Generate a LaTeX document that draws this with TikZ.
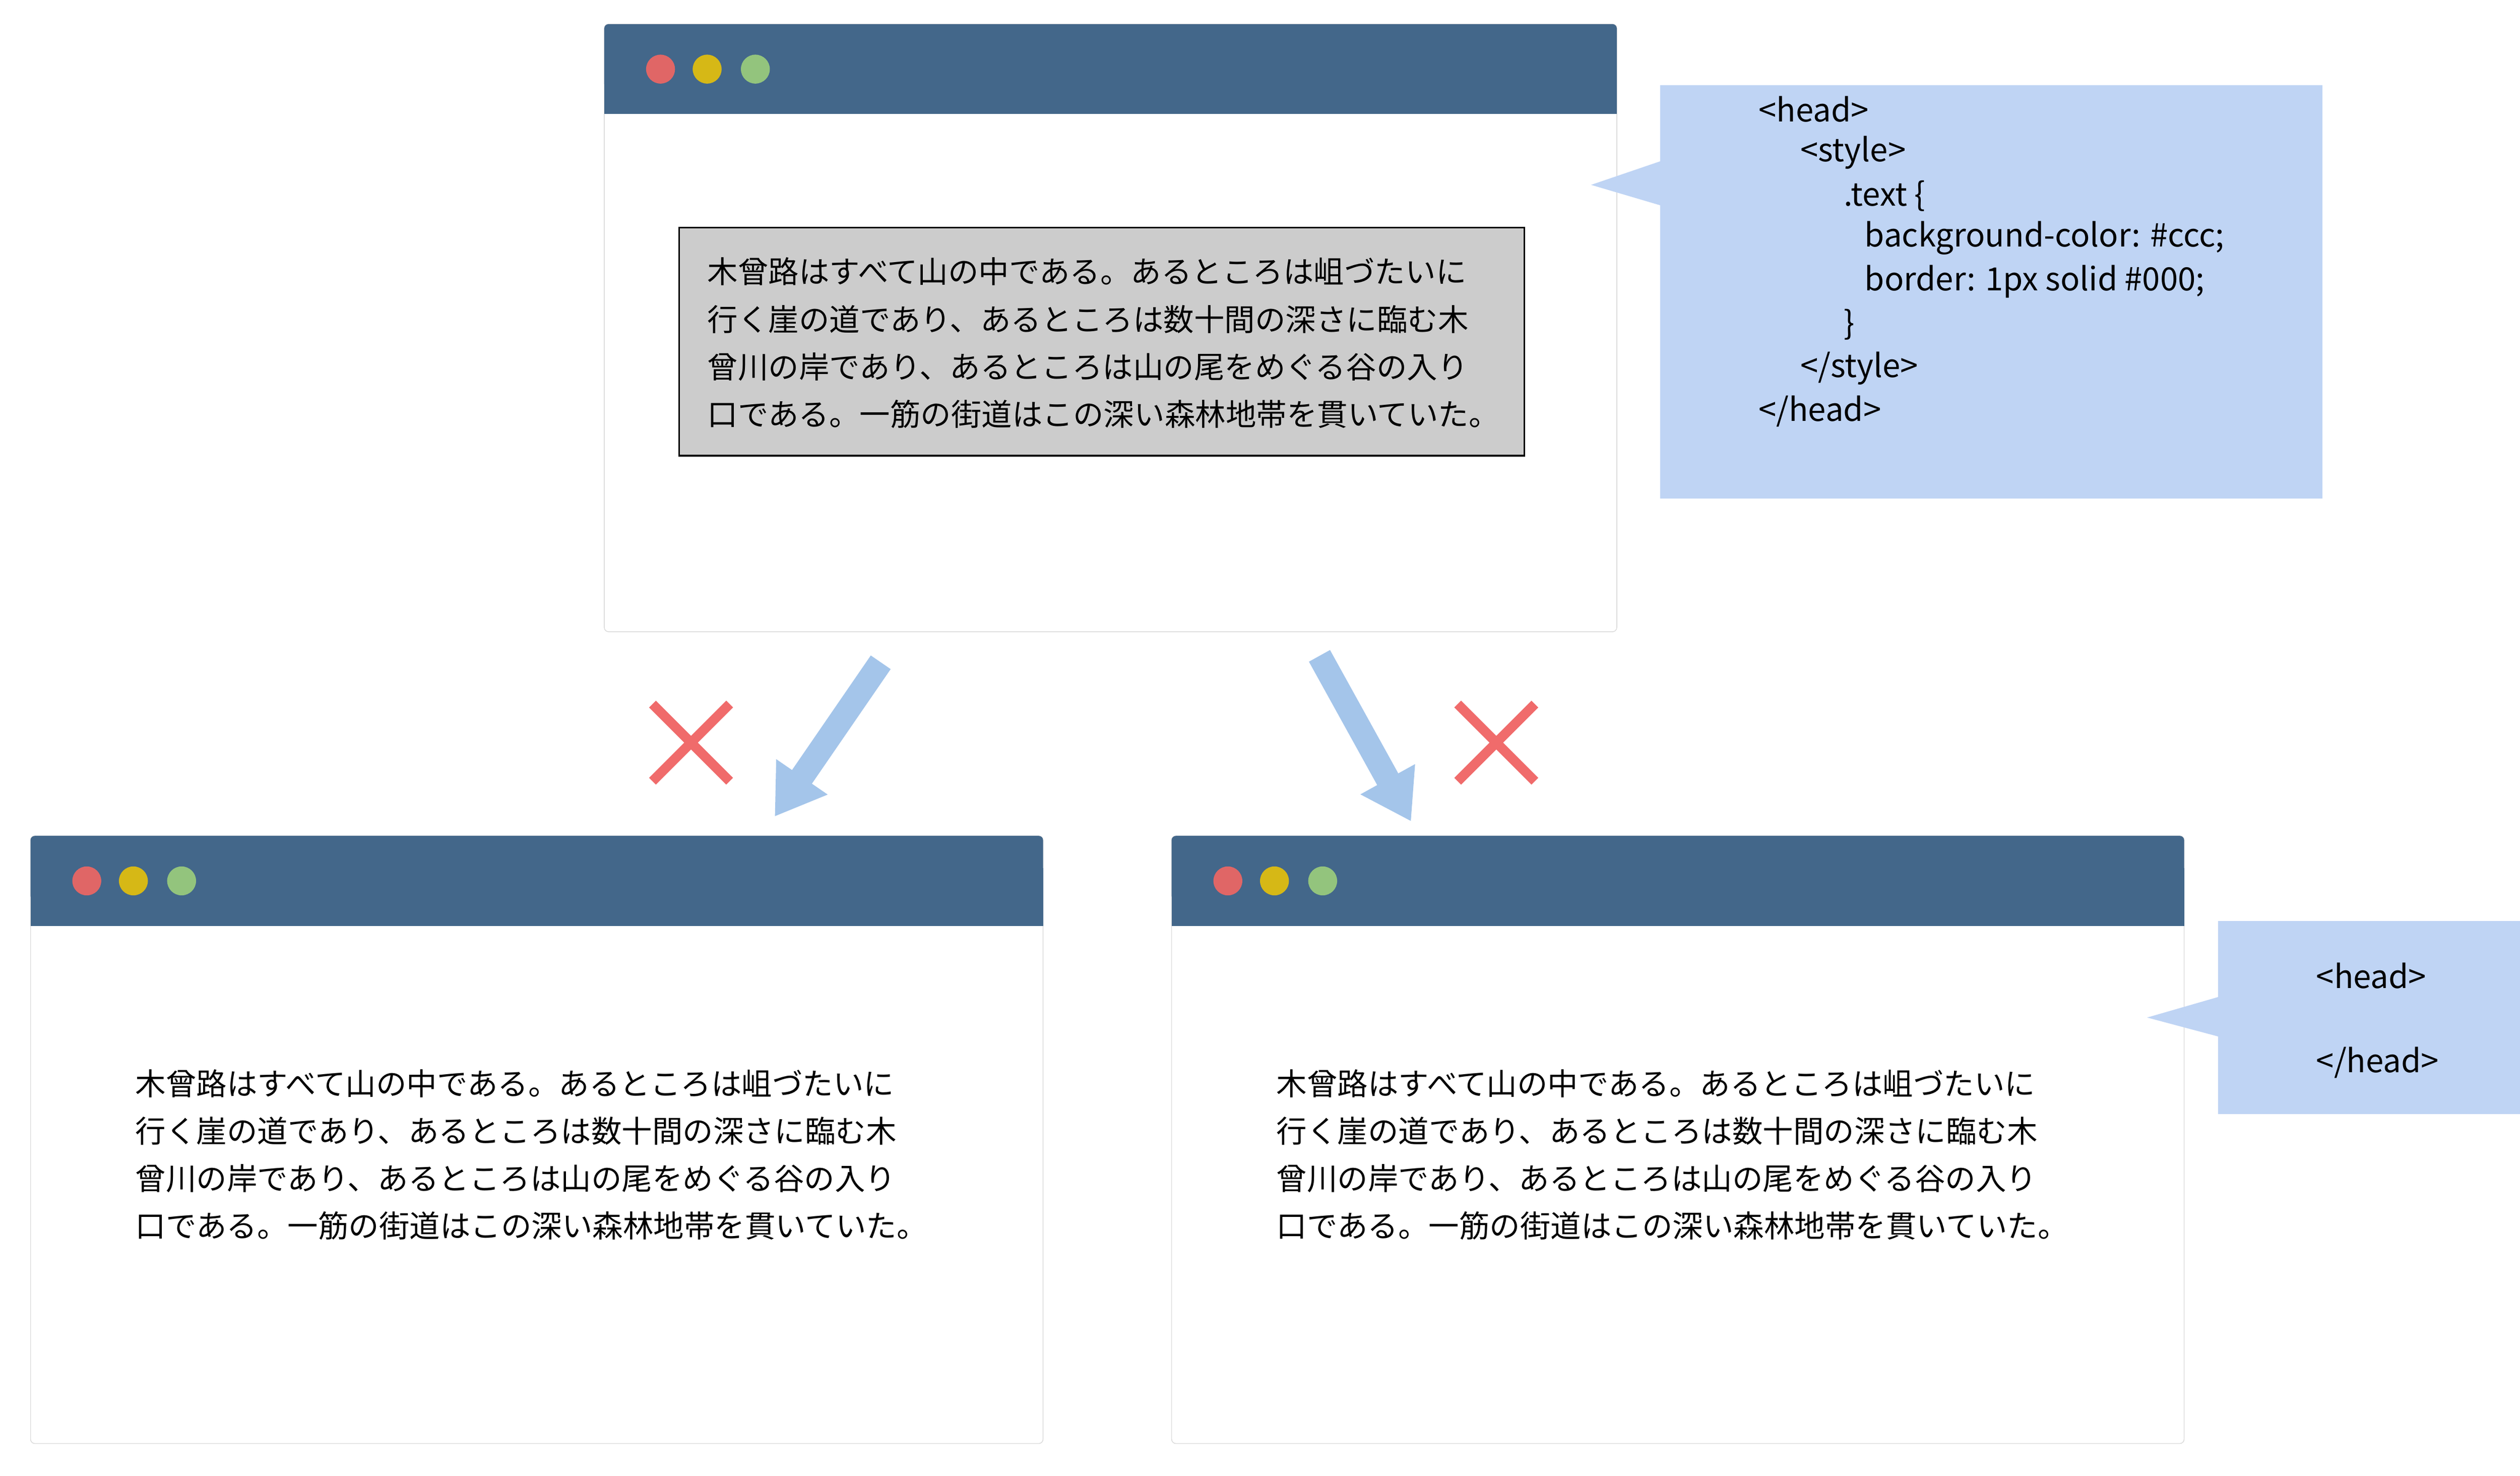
\documentclass[tikz,border=0pt]{standalone}
\usepackage{fontspec}
\setmainfont{Noto Sans CJK JP}
\usetikzlibrary{arrows.meta}
\definecolor{bar}{HTML}{43678A}
\definecolor{dred}{HTML}{E06666}
\definecolor{dyel}{HTML}{D6B816}
\definecolor{dgrn}{HTML}{93C47D}
\definecolor{callout}{HTML}{BFD4F4}
\definecolor{arr}{HTML}{A4C5EA}
\definecolor{xred}{HTML}{F06B6B}
\tikzset{
  win/.style={draw=black!15, fill=white, rounded corners=0.8mm, line width=0.3pt},
  dot/.style={circle, inner sep=0pt, minimum size=5.4mm},
  jtext/.style={font=\fontsize{16.2}{25.2}\selectfont, align=left, anchor=north west, inner sep=0pt},
  code/.style={font=\fontsize{17}{23}\selectfont, anchor=west, inner sep=0pt},
  bigarrow/.style={draw=arr, line width=4.5mm, -{Triangle[width=11mm,length=9mm]}},
  xmark/.style={draw=xred, line width=1.8mm},
}
\newcommand{\jtxt}{木曾路はすべて山の中である。あるところは岨づたいに\\行く崖の道であり、あるところは数十間の深さに臨む木\\曾川の岸であり、あるところは山の尾をめぐる谷の入り\\口である。一筋の街道はこの深い森林地帯を貫いていた。}
\newcommand{\window}[3]{%
  \fill[win] (#1,#2) rectangle ++(630,378);
  \draw[win, fill=none] (#1,#2) rectangle ++(630,378);
  \fill[bar, rounded corners=0.8mm] (#1,#2) rectangle ++(630,40);
  \fill[bar] (#1,#2+20) rectangle ++(630,36);
  \node[dot, fill=dred] (#3r) at (#1+35,#2+28) {};
  \node[dot, fill=dyel] (#3y) at (#1+64,#2+28) {};
  \node[dot, fill=dgrn] (#3g) at (#1+94,#2+28) {};
}
\begin{document}
\begin{tikzpicture}[x=0.3mm, y=-0.3mm]
\useasboundingbox (0,0) rectangle (1568,918);
\window{376}{15}{t}
\window{19}{520}{l}
\window{729}{520}{r}
% grey box
\node[draw=black, fill=black!20, line width=0.9pt, minimum width=526*0.3mm, minimum height=142*0.3mm, anchor=north west, inner sep=0pt] (gbox) at (422,141) {};
\node[jtext] (ttext) at (440,160) {\jtxt};
\node[jtext] (ltext) at (84,665) {\jtxt};
\node[jtext] (rtext) at (794,665) {\jtxt};
% callout 1
\fill[callout] (1033,53) rectangle (1445,310);
\fill[callout] (1034,100) -- (990,115) -- (1034,128) -- cycle;
\node[code] (c1) at (1094,68) {<head>};
\node[code] (c2) at (1120,95) {<style>};
\node[code] (c3) at (1147,122) {.text \{};
\node[code] (c4) at (1160,148) {background-color: \#ccc;};
\node[code] (c5) at (1160,175) {border: 1px solid \#000;};
\node[code] (c6) at (1147,202) {\}};
\node[code] (c7) at (1120,229) {</style>};
\node[code] (c8) at (1094,256) {</head>};
% callout 2
\fill[callout] (1380,573) rectangle (1568,693);
\fill[callout] (1381,620) -- (1336,633) -- (1381,645) -- cycle;
\node[code] (d1) at (1441,607) {<head>};
\node[code] (d2) at (1441,661) {</head>};
% arrows
\coordinate (a1s) at (548,412); \coordinate (a1e) at (482,508);
\coordinate (a2s) at (821,408); \coordinate (a2e) at (878,511);
\draw[bigarrow] (a1s) -- (a1e);
\draw[bigarrow] (a2s) -- (a2e);
% crosses
\coordinate (x1) at (430,462); \coordinate (x2) at (931,462);
\draw[xmark] ([shift={(-24,-24)}]x1) -- ([shift={(24,24)}]x1);
\draw[xmark] ([shift={(-24,24)}]x1) -- ([shift={(24,-24)}]x1);
\draw[xmark] ([shift={(-24,-24)}]x2) -- ([shift={(24,24)}]x2);
\draw[xmark] ([shift={(-24,24)}]x2) -- ([shift={(24,-24)}]x2);
\end{tikzpicture}
\end{document}
